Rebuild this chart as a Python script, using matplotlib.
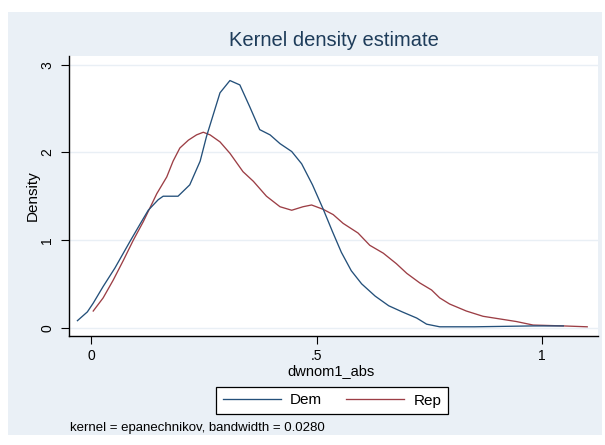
import matplotlib
matplotlib.use("Agg")
import matplotlib.pyplot as plt
from matplotlib.patches import Rectangle

# ---- data ----
dem_x = [-0.030, -0.008, 0.005, 0.027, 0.053, 0.086, 0.112, 0.127, 0.149, 0.160, 0.193,
         0.219, 0.242, 0.256, 0.271, 0.286, 0.308, 0.330, 0.352, 0.374, 0.397, 0.419,
         0.445, 0.467, 0.491, 0.515, 0.535, 0.555, 0.577, 0.600, 0.630, 0.660, 0.690,
         0.722, 0.744, 0.773, 0.850, 0.980, 1.047]
dem_y = [0.08, 0.18, 0.28, 0.47, 0.68, 0.98, 1.21, 1.34, 1.46, 1.50, 1.50,
         1.63, 1.90, 2.18, 2.43, 2.68, 2.82, 2.77, 2.52, 2.26, 2.20, 2.10,
         2.01, 1.87, 1.63, 1.35, 1.10, 0.86, 0.65, 0.50, 0.36, 0.25, 0.18,
         0.11, 0.04, 0.01, 0.01, 0.02, 0.02]

rep_x = [0.005, 0.027, 0.049, 0.072, 0.094, 0.116, 0.146, 0.168, 0.182, 0.197, 0.216,
         0.234, 0.249, 0.264, 0.286, 0.308, 0.337, 0.360, 0.389, 0.419, 0.445, 0.470,
         0.489, 0.515, 0.537, 0.559, 0.592, 0.618, 0.648, 0.677, 0.700, 0.729, 0.755,
         0.773, 0.795, 0.832, 0.869, 0.906, 0.943, 0.980, 1.047, 1.100]
rep_y = [0.19, 0.34, 0.54, 0.77, 1.00, 1.21, 1.53, 1.72, 1.90, 2.05, 2.14,
         2.20, 2.23, 2.20, 2.12, 1.99, 1.78, 1.67, 1.50, 1.38, 1.34, 1.38,
         1.40, 1.35, 1.29, 1.19, 1.08, 0.94, 0.85, 0.73, 0.62, 0.51, 0.43,
         0.34, 0.27, 0.19, 0.13, 0.10, 0.07, 0.03, 0.02, 0.01]

series_names = ["Dem", "Rep"]
x_ticks = [0, 0.5, 1]
x_tick_labels = ["0", ".5", "1"]
y_ticks = [0, 1, 2, 3]
y_tick_labels = ["0", "1", "2", "3"]
title = "Kernel density estimate"
x_label = "dwnom1_abs"
y_label = "Density"
note = "kernel = epanechnikov, bandwidth = 0.0280"

plt.rcParams['font.family'] = ['Liberation Sans', 'DejaVu Sans']

W, H = 605, 445
fig = plt.figure(figsize=(W / 100, H / 100), dpi=100)
fig.patch.set_facecolor("white")

bg = "#eaf0f6"
fig.patches.append(Rectangle((8 / W, 1 - 435 / H), (602 - 8) / W, (435 - 12) / H,
                             transform=fig.transFigure, facecolor=bg, edgecolor="none",
                             zorder=-10))

ax = fig.add_axes([69 / W, 1 - 336 / H, (597.5 - 69) / W, (336 - 56) / H])
ax.set_zorder(1)
ax.set_facecolor("white")
ax.set_xlim(-0.0487, 1.1228)
ax.set_ylim(-0.095, 3.10)

for yt in y_ticks:
    ax.axhline(yt, color="#e9eff5", lw=1.0, zorder=1)

dem_color = "#24507a"
rep_color = "#9c3e45"
ax.plot(rep_x, rep_y, color=rep_color, lw=0.95, label=series_names[1], zorder=3)
ax.plot(dem_x, dem_y, color=dem_color, lw=0.95, label=series_names[0], zorder=4)

for s in ["top", "right"]:
    ax.spines[s].set_visible(False)
for s in ["left", "bottom"]:
    ax.spines[s].set_color("black")
    ax.spines[s].set_linewidth(1.0)

ax.set_xticks(x_ticks)
ax.set_xticklabels(x_tick_labels)
ax.set_yticks(y_ticks)
ax.set_yticklabels(y_tick_labels, rotation=90, va="center")
ax.tick_params(axis="both", direction="out", length=6, width=0.8, color="black",
               labelsize=10, labelcolor="black")
ax.tick_params(axis="x", pad=3)
ax.tick_params(axis="y", pad=4.5)

ax.set_xlabel(x_label, fontsize=10.5, va="baseline")
ax.xaxis.set_label_coords(0.4965, (336 - 375.5) / 280)
ax.set_ylabel(y_label, fontsize=11, va="center")
ax.yaxis.set_label_coords((32.5 - 69) / 528.5, 0.5)

fig.text(333.5 / W, 1 - 46.5 / H, title, ha="center", va="baseline", fontsize=14.5,
         color="#1e3c5a")

dem_line, rep_line = ax.lines[-1], ax.lines[-2]
leg = fig.legend([dem_line, rep_line], series_names, loc="center",
                 bbox_to_anchor=(332 / W, 1 - 400.5 / H),
                 ncol=2, frameon=True, fancybox=False, edgecolor="black",
                 facecolor="white", framealpha=1, fontsize=11, handlelength=3.8,
                 columnspacing=1.6, borderpad=0.4, handletextpad=0.6,
                 borderaxespad=0)
leg.get_frame().set_linewidth(0.9)
leg.set_zorder(5)

fig.text(69.5 / W, 1 - 431.5 / H, note, ha="left", va="baseline", fontsize=9.5,
         color="black")

fig.savefig("out.png", dpi=100, facecolor=fig.get_facecolor())
